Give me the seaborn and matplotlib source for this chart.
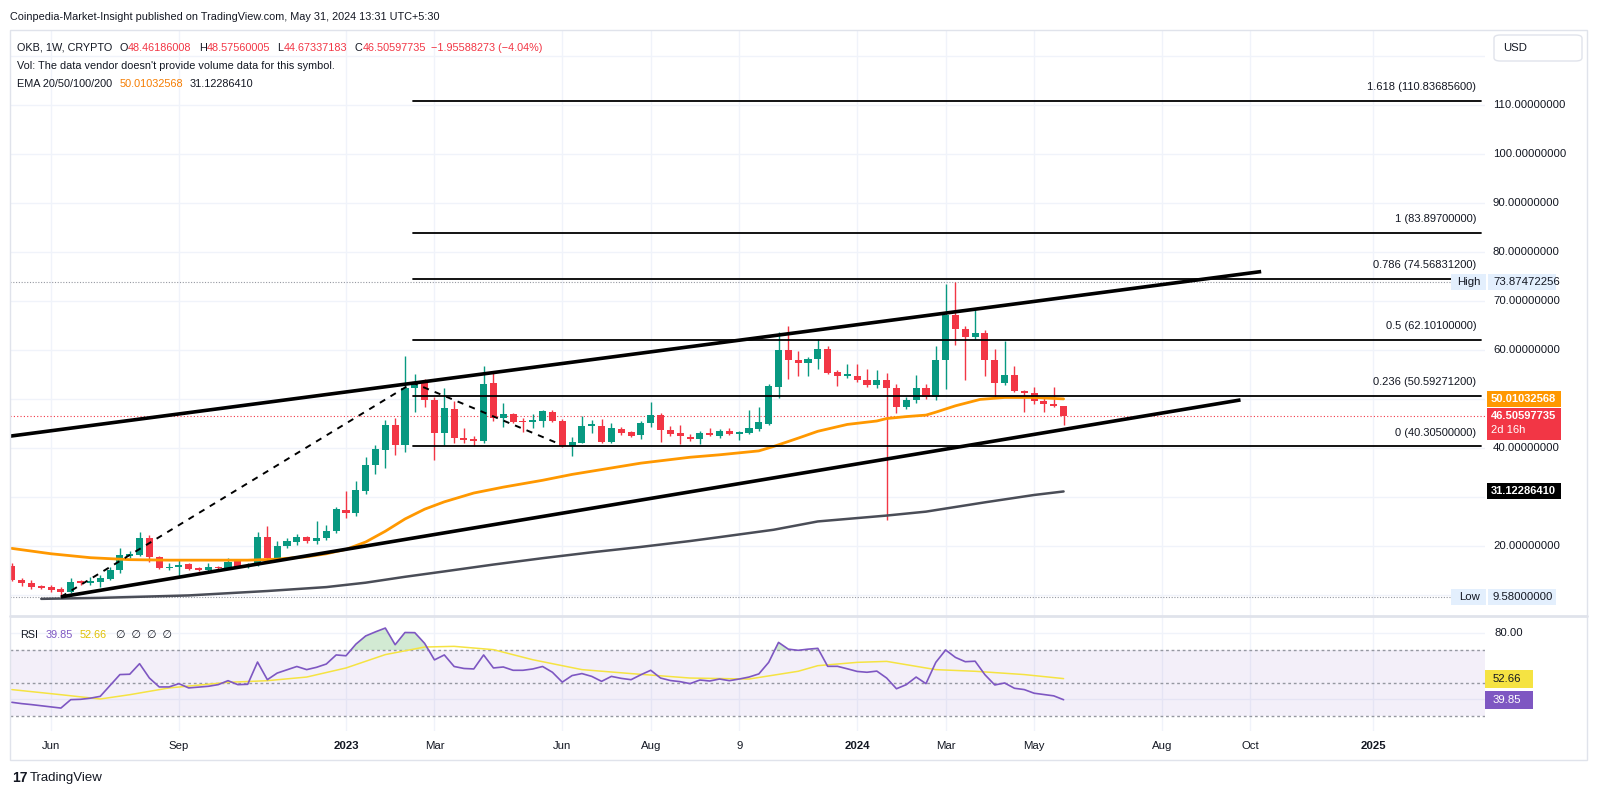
import matplotlib
matplotlib.use("Agg")
import matplotlib.pyplot as plt
import matplotlib.transforms as mtransforms
from matplotlib.patches import Rectangle, FancyBboxPatch
import numpy as np
import pandas as pd
import seaborn as sns

# --- weekly OKB candles, week 0 = 2 Jan 2023 ---
weeks = list(range(-34, 74))
opens = [15.9, 13.1, 12.5, 11.8, 11.6, 11.2, 10.6, 12.7, 12.4, 12.7,
         13.3, 15.0, 17.9, 18.2, 21.6, 17.7, 15.5, 15.6, 16.3, 15.5,
         15.1, 15.6, 15.4, 16.9, 15.7, 16.1, 21.8, 17.6, 19.9, 20.9,
         21.8, 21.1, 21.6, 23.1, 27.3, 26.8, 31.3, 36.5, 39.6, 44.7,
         40.6, 52.3, 53.3, 49.8, 43.0, 48.0, 42.1, 41.8, 41.4, 53.2,
         46.2, 46.9, 45.5, 45.2, 45.6, 47.4, 45.6, 40.3, 41.1, 44.5,
         44.5, 41.3, 43.9, 43.2, 42.7, 45.0, 46.7, 43.7, 43.0, 42.3,
         41.8, 43.1, 42.4, 43.5, 42.9, 43.1, 43.8, 44.9, 52.5, 60.0,
         58.0, 57.4, 58.2, 60.2, 55.4, 54.7, 54.7, 53.9, 52.9, 53.9,
         52.2, 48.3, 49.7, 52.2, 50.3, 58.0, 67.1, 64.2, 62.6, 63.4,
         58.0, 53.3, 54.9, 51.7, 51.3, 49.5, 48.99, 48.46186008]
highs = [16.6, 13.4, 13.1, 12.1, 12.0, 11.6, 13.5, 13.0, 13.7, 14.1,
         15.6, 19.6, 19.0, 22.9, 22.2, 17.9, 16.6, 17.3, 16.6, 15.8,
         16.5, 16.0, 17.5, 17.2, 16.5, 22.8, 24.0, 21.0, 21.6, 22.5,
         22.0, 25.1, 24.2, 27.9, 31.2, 33.3, 38.2, 40.6, 45.7, 46.2,
         58.8, 55.0, 54.0, 50.4, 52.2, 49.6, 44.1, 42.5, 56.7, 55.2,
         49.1, 47.2, 46.1, 46.9, 47.8, 47.8, 45.9, 42.2, 46.5, 45.7,
         45.9, 45.1, 44.3, 43.5, 45.6, 49.4, 47.2, 44.4, 44.6, 42.9,
         43.5, 44.0, 43.8, 44.0, 43.5, 47.8, 48.3, 53.0, 63.7, 64.9,
         59.7, 58.6, 62.2, 60.9, 55.9, 57.1, 57.1, 56.2, 56.0, 55.2,
         53.1, 50.3, 54.9, 53.0, 60.8, 73.5, 73.87, 64.8, 68.2, 64.0,
         60.1, 61.9, 56.7, 51.9, 52.4, 50.4, 52.4, 48.57560005]
lows = [12.9, 11.8, 11.2, 11.2, 10.6, 9.58, 10.3, 12.0, 12.0, 11.7,
        13.0, 14.5, 17.6, 17.9, 16.8, 15.2, 15.0, 13.7, 15.0, 14.8,
        14.9, 15.1, 15.2, 15.5, 15.4, 15.9, 17.1, 17.3, 19.5, 20.1,
        20.6, 20.4, 21.2, 22.6, 25.6, 26.2, 30.5, 34.7, 35.9, 38.6,
        39.2, 47.4, 48.4, 37.6, 40.6, 41.0, 41.1, 40.3, 41.0, 45.4,
        44.3, 45.0, 43.2, 44.0, 44.2, 45.2, 40.2, 38.4, 41.0, 43.0,
        41.0, 41.0, 42.6, 42.2, 41.8, 44.2, 41.3, 42.5, 40.8, 41.5,
        40.9, 42.5, 42.0, 42.6, 41.7, 42.8, 43.5, 44.6, 50.1, 54.1,
        54.6, 54.6, 56.2, 55.0, 52.7, 54.2, 53.5, 52.5, 52.3, 25.3,
        47.2, 47.9, 49.2, 49.9, 49.8, 52.0, 61.0, 53.9, 62.3, 54.7,
        50.3, 52.9, 51.5, 47.4, 49.0, 47.3, 48.3, 44.67337183]
closes = [13.1, 12.5, 11.6, 11.5, 11.0, 10.7, 12.6, 12.5, 12.9, 13.4,
          15.1, 18.2, 18.3, 21.6, 17.8, 15.4, 15.7, 16.1, 15.3, 15.1,
          15.7, 15.5, 16.8, 15.7, 16.1, 21.8, 17.6, 20.0, 21.0, 21.8,
          21.0, 21.7, 23.1, 27.5, 26.8, 31.4, 36.6, 39.7, 44.7, 40.6,
          52.3, 53.3, 49.7, 43.0, 48.1, 42.0, 41.6, 41.5, 53.0, 46.1,
          46.9, 45.2, 45.3, 45.7, 47.6, 45.6, 40.3, 41.3, 44.5, 44.9,
          41.3, 44.0, 43.1, 42.5, 45.0, 46.7, 43.7, 42.9, 42.4, 41.8,
          43.1, 42.7, 43.5, 42.9, 43.3, 44.0, 45.2, 52.7, 60.0, 58.0,
          57.4, 58.2, 60.2, 55.2, 54.6, 55.0, 53.9, 52.9, 53.9, 52.2,
          48.3, 49.8, 52.2, 50.3, 58.0, 67.1, 64.2, 62.6, 63.4, 58.0,
          53.3, 54.9, 51.7, 51.3, 49.5, 49.0, 48.46, 46.50597735]

# EMA lines
ema50_weeks = [-34, -30, -26, -22, -18, -14, -10, -7, -4, -2, 0, 2, 4, 6, 8, 10, 13, 16, 20,
               23, 30, 35, 38, 42, 43.5, 46, 48, 51, 54, 55, 57, 59, 60, 62, 64.5, 67, 70, 73]
ema50_values = [19.5, 18.4, 17.6, 17.2, 17.1, 17.1, 17.1, 17.3, 17.8, 18.4, 19.3, 20.8, 23.0,
                25.5, 27.5, 29.0, 30.8, 32.0, 33.4, 34.6, 36.9, 38.1, 38.6, 39.4, 40.3, 42.0,
                43.4, 44.8, 45.5, 46.0, 46.4, 46.7, 47.3, 48.6, 49.9, 50.3, 50.3, 50.01]
ema200_weeks = [-31, -25, -16, -8, -2, 2, 6, 10, 15, 20, 25, 30, 35, 38, 43.5, 48, 55, 59, 65, 70, 73]
ema200_values = [9.2, 9.4, 9.9, 10.8, 11.6, 12.5, 13.7, 14.8, 16.2, 17.5, 18.7, 19.8, 21.0,
                 21.8, 23.3, 25.0, 26.2, 27.0, 28.9, 30.4, 31.12]

# RSI (14) and its moving average
rsi_values = [38.3, 37.5, 36.9, 36.2, 35.5, 34.8, 39.9, 40.1, 40.8, 41.9,
              48.5, 55.1, 55.3, 61.7, 53.0, 47.6, 47.6, 49.6, 47.0, 47.5,
              48.0, 49.0, 51.4, 49.0, 49.2, 62.7, 52.0, 56.0, 58.0, 60.0,
              58.1, 59.5, 61.5, 67.0, 66.5, 73.5, 78.5, 81.0, 83.3, 73.2,
              80.6, 80.5, 74.0, 64.0, 67.0, 60.0, 58.8, 58.5, 67.0, 59.1,
              59.7, 57.7, 57.7, 58.5, 60.0, 56.5, 50.5, 54.5, 55.7, 54.0,
              51.0, 54.0, 52.8, 52.0, 55.0, 57.7, 53.0, 51.5, 50.8, 49.6,
              51.8, 51.2, 52.4, 51.4, 52.4, 53.6, 55.5, 62.5, 74.6, 70.5,
              69.8, 70.5, 71.0, 60.1, 60.1, 58.6, 57.0, 56.5, 57.2, 53.0,
              46.5, 49.0, 53.6, 49.6, 62.5, 70.0, 65.5, 62.9, 63.2, 55.0,
              48.8, 50.0, 46.8, 46.0, 43.8, 43.0, 42.2, 39.85]
rsi_ma_weeks = [-34, -29, -25, -22, -18, -12, -8, -4, 0, 4, 8, 11, 15, 19, 24, 29, 35, 41,
                46, 48, 52, 55, 57, 60, 64, 69, 73]
rsi_ma_values = [46.0, 42.9, 40.3, 42.9, 47.0, 50.4, 51.4, 53.6, 59.1, 67.2, 71.8, 72.2, 70.2,
                 64.1, 58.1, 55.7, 53.0, 52.4, 57.1, 60.5, 62.5, 63.1, 61.1, 58.1, 57.1, 55.1, 52.66]

# drawings
fib_ratios = ["1.618", "1", "0.786", "0.5", "0.236", "0"]
fib_levels = [110.836856, 83.897, 74.568312, 62.101, 50.592712, 40.305]
upper_channel = ([-34.2, 93.1], [42.4, 76.0])
lower_channel = ([-29.0, 91.0], [9.6, 49.8])
abc_path = ([-29.0, 6.8, 21.6], [9.6, 53.3, 40.9])

tick_weeks = [-30, -17, 0, 9, 22, 31, 40, 52, 61, 70, 83, 92, 104.5]
tick_labels = ["Jun", "Sep", "2023", "Mar", "Jun", "Aug", "9", "2024", "Mar", "May", "Aug", "Oct", "2025"]
price_ticks = [20, 40, 60, 70, 80, 90, 100, 110]

last_price = 46.50597735
ema50_last = 50.01032568
ema200_last = 31.12286410
high_price = 73.87472256
low_price = 9.58

GREEN, RED = "#089981", "#f23645"
ORANGE, GREY = "#ff9800", "#4a4d57"
PURPLE, YELLOW = "#7e57c2", "#f5e342"
TXT = "#131722"

W, H = 1600, 796
L_PX, R_PX = 10, 1485

sns.set_theme(style="white")
plt.rcParams["font.family"] = ["Liberation Sans", "DejaVu Sans"]

fig = plt.figure(figsize=(16, 7.96), dpi=100)
fig.patch.set_facecolor("white")
renderer = fig.canvas.get_renderer()


def fx(x):
    return x / W


def fy(y):
    return 1 - y / H


ax = fig.add_axes([fx(L_PX), fy(616), (R_PX - L_PX) / W, (616 - 30) / H])
rax = fig.add_axes([fx(L_PX), fy(731), (R_PX - L_PX) / W, (731 - 616) / H])
for a in (ax, rax):
    a.set_facecolor("white")
    for s in a.spines.values():
        s.set_visible(False)

XMIN, XMAX = -34.18, 115.87
ax.set_xlim(XMIN, XMAX)
ax.set_ylim(5.7, 125.3)
rax.set_ylim(20.9, 90.6)

# grid
for t in tick_weeks:
    ax.axvline(t, color="#f0f3fa", lw=1, zorder=0)
    rax.axvline(t, color="#f0f3fa", lw=1, zorder=0)
for g in range(10, 130, 10):
    ax.axhline(g, color="#f0f3fa", lw=1, zorder=0)
rax.axhline(80, color="#f0f3fa", lw=1, zorder=0)
rax.axhline(40, color="#f0f3fa", lw=1, zorder=0)

# candles
df = pd.DataFrame({"week": weeks, "open": opens, "high": highs, "low": lows, "close": closes})
df["color"] = np.where(df["close"] >= df["open"], GREEN, RED)
df["bottom"] = df[["open", "close"]].min(axis=1)
df["height"] = (df["close"] - df["open"]).abs().clip(lower=0.25)
ax.vlines(df["week"], df["low"], df["high"], colors=df["color"], lw=1, zorder=2)
ax.bar(df["week"], df["height"], bottom=df["bottom"], width=0.72, color=df["color"],
       edgecolor="none", zorder=3)

# EMAs
sns.lineplot(x=ema200_weeks, y=ema200_values, ax=ax, color=GREY, lw=1.8, zorder=4)
sns.lineplot(x=ema50_weeks, y=ema50_values, ax=ax, color=ORANGE, lw=2, zorder=4)

# price / high / low lines
ax.axhline(last_price, color=RED, lw=0.8, ls=(0, (1, 2)), zorder=1)
ax.plot([XMIN, 113.2], [high_price, high_price], color="#9598a1", lw=0.8, ls=(0, (1, 1.5)), zorder=1)
ax.plot([XMIN, 113.2], [low_price, low_price], color="#9598a1", lw=0.8, ls=(0, (1, 1.5)), zorder=1)

# fib levels
for r, lv in zip(fib_ratios, fib_levels):
    ax.plot([6.8, 115.5], [lv, lv], color="black", lw=1.3, zorder=5)
    ax.text(115.0, lv + 2.8, f"{r} ({lv:.8f})", ha="right", va="center",
            fontsize=8, color=TXT, zorder=6)

# channel + abc drawing
ax.plot(*upper_channel, color="black", lw=2.6, zorder=5, solid_capstyle="butt")
ax.plot(*lower_channel, color="black", lw=2.6, zorder=5, solid_capstyle="butt")
ax.plot(*abc_path, color="black", lw=1.4, dashes=(3.2, 3.2), zorder=5)

ax.set_xticks([])
ax.set_yticks([])
ax.set_xlim(XMIN, XMAX)

# right price scale
tr = mtransforms.blended_transform_factory(ax.transAxes, ax.transData)
lab_x = (1493 - L_PX) / (R_PX - L_PX)
for p in price_ticks:
    ax.text(lab_x, p, f"{p:.8f}", transform=tr, ha="left", va="center",
            fontsize=8.2, color=TXT, clip_on=False)


def scale_box(axis, y, half_h_px, px_per_unit, x0, x1, fc, text, tc, bold=False, fs=8.2,
              y_top_px=None, y_bot_px=None, tx=None):
    t = mtransforms.blended_transform_factory(axis.transAxes, axis.transData)
    a0 = (x0 - L_PX) / (R_PX - L_PX)
    a1 = (x1 - L_PX) / (R_PX - L_PX)
    top = y + (y_top_px if y_top_px is not None else half_h_px) / px_per_unit
    bot = y - (y_bot_px if y_bot_px is not None else half_h_px) / px_per_unit
    axis.add_patch(Rectangle((a0, bot), a1 - a0, top - bot, transform=t, facecolor=fc,
                             edgecolor="none", clip_on=False, zorder=8))
    tx0 = (tx - L_PX) / (R_PX - L_PX) if tx is not None else a0 + 0.003
    axis.text(tx0, y, text, transform=t, ha="left", va="center", fontsize=fs, color=tc,
              fontweight="bold" if bold else "normal", clip_on=False, zorder=9)


PPU = 4.9
scale_box(ax, high_price, 8, PPU, 1488, 1556, "#e3effd", f"{high_price:.8f}", TXT, tx=1493)
scale_box(ax, high_price, 8, PPU, 1451, 1486, "#e3effd", "High", TXT, tx=1457)
scale_box(ax, low_price, 8, PPU, 1488, 1556, "#e3effd", f"{low_price:.8f}", TXT, tx=1493)
scale_box(ax, low_price, 8, PPU, 1451, 1486, "#e3effd", "Low", TXT, tx=1459)
scale_box(ax, ema50_last, 8, PPU, 1487, 1561, ORANGE, f"{ema50_last:.8f}", "white",
          bold=True, fs=8, tx=1491)
scale_box(ax, last_price, 8, PPU, 1487, 1561, RED, f"{last_price:.8f}", "white", bold=True,
          fs=8, y_top_px=8, y_bot_px=24, tx=1491)
ax.text((1491 - L_PX) / (R_PX - L_PX), last_price - 14 / PPU, "2d 16h", transform=tr,
        ha="left", va="center", fontsize=8, color="white", clip_on=False, zorder=9)
scale_box(ax, ema200_last, 8, PPU, 1487, 1561, "black", f"{ema200_last:.8f}", "white",
          bold=True, fs=8, tx=1491)

# RSI panel
rax.axhspan(30, 70, color=PURPLE, alpha=0.09, lw=0, zorder=0)
for lvl in (70, 50, 30):
    rax.axhline(lvl, color="#9598a1", lw=1, ls=(0, (2, 2)), zorder=1)
rsi_arr = np.array(rsi_values)
rax.fill_between(weeks, 70, rsi_arr, where=rsi_arr > 70, interpolate=True,
                 color="#4caf50", alpha=0.25, lw=0, zorder=1)
sns.lineplot(x=rsi_ma_weeks, y=rsi_ma_values, ax=rax, color=YELLOW, lw=1.1, zorder=3)
sns.lineplot(x=weeks, y=rsi_values, ax=rax, color=PURPLE, lw=1.2, zorder=4)
rax.set_yticks([])
rax.set_xticks(tick_weeks)
rax.set_xticklabels(tick_labels)
rax.tick_params(axis="x", length=0, pad=7, labelsize=8.2, labelcolor=TXT)
for lbl in rax.get_xticklabels():
    if lbl.get_text() in ("2023", "2024", "2025"):
        lbl.set_fontweight("bold")
rax.set_xlim(XMIN, XMAX)
rtr = mtransforms.blended_transform_factory(rax.transAxes, rax.transData)
rax.text((1495 - L_PX) / (R_PX - L_PX), 80, "80.00", transform=rtr, ha="left", va="center",
         fontsize=8.2, color=TXT, clip_on=False)
scale_box(rax, rsi_ma_values[-1], 9, 1.65, 1485, 1533, YELLOW, f"{rsi_ma_values[-1]:.2f}", TXT, tx=1493)
scale_box(rax, rsi_values[-1], 9, 1.65, 1485, 1533, PURPLE, f"{rsi_values[-1]:.2f}", "white", tx=1493)

# frame and separators
fig.add_artist(Rectangle((fx(10), fy(760)), fx(1587) - fx(10), fy(30) - fy(760),
                         transform=fig.transFigure, fill=False, edgecolor="#e0e3eb", lw=1))
fig.add_artist(plt.Line2D([fx(10), fx(1587)], [fy(616), fy(616)], transform=fig.transFigure,
                          color="#e0e3eb", lw=2))
fig.add_artist(FancyBboxPatch((fx(1494), fy(61)), fx(1582) - fx(1494), fy(35) - fy(61),
                              boxstyle="round,pad=0,rounding_size=0.004",
                              transform=fig.transFigure, fill=False, edgecolor="#e0e3eb", lw=1))


def ftext(x, y, s, color=TXT, **kw):
    return fig.text(fx(x), fy(y), s, va="center", ha="left", color=color, **kw)


def chain(x, y, parts, fs=7.8):
    # lay text pieces out one after another, each with its own gap in pixels
    for s, c, gap in parts:
        x += gap
        t = ftext(x, y, s, color=c, fontsize=fs)
        x = t.get_window_extent(renderer).x1


ftext(10, 17, "Coinpedia-Market-Insight published on TradingView.com, May 31, 2024 13:31 UTC+5:30",
      fontsize=7.8)
ftext(1503, 48, "USD", fontsize=8.2)

chain(17, 48, [("OKB, 1W, CRYPTO", TXT, 0), ("O", TXT, 7), ("48.46186008", RED, 0.5),
               ("H", TXT, 7), ("48.57560005", RED, 0.5), ("L", TXT, 7), ("44.67337183", RED, 0.5),
               ("C", TXT, 7), ("46.50597735", RED, 0.5), ("\u22121.95588273 (\u22124.04%)", RED, 5)])
ftext(17, 66, "Vol: The data vendor doesn't provide volume data for this symbol.", fontsize=7.8)
chain(17, 84, [("EMA 20/50/100/200", TXT, 0), ("50.01032568", "#f57c00", 7),
               ("31.12286410", TXT, 7)])
chain(20, 635, [("RSI", TXT, 0), ("39.85", PURPLE, 8), ("52.66", "#e0c000", 6),
                ("\u2205  \u2205  \u2205  \u2205", TXT, 9)])

ftext(12, 778, "17", fontsize=10, fontweight="bold")
ftext(30, 778, "TradingView", fontsize=9.5)

fig.savefig("out.png", dpi=100)
